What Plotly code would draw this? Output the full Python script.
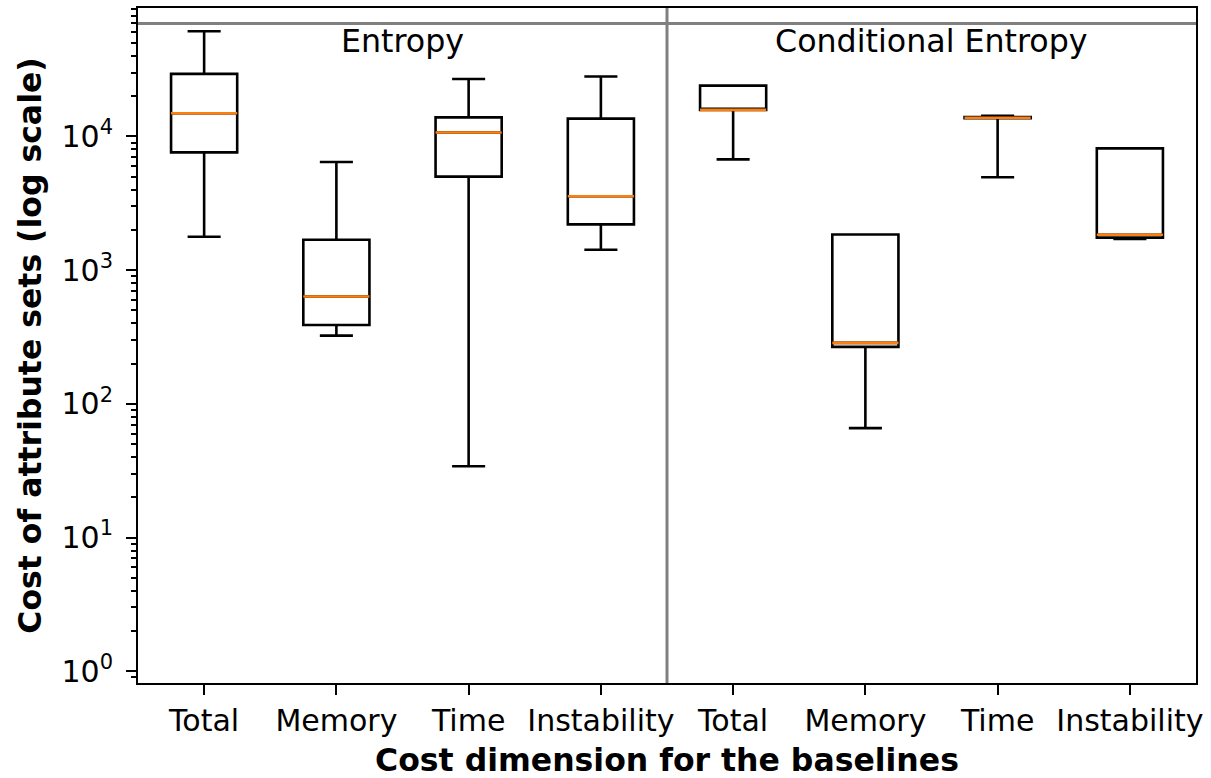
import plotly.graph_objects as go
import numpy as np

# ---- data ----
groups = ["Entropy", "Conditional Entropy"]
dimensions = ["Total", "Memory", "Time", "Instability"]
tick_labels = dimensions * len(groups)

lower_whisker = [1780, 324, 34.1, 1420, 6740, 65.8, 4950, 1710]
q1_values = [7610, 389, 5010, 2200, 15800, 267, 13700, 1750]
median_values = [14900, 635, 10700, 3570, 15800, 286, 13800, 1840]
q3_values = [29400, 1690, 13900, 13600, 24000, 1850, 14000, 8150]
upper_whisker = [61200, 6440, 26900, 28100, 24000, 1850, 14300, 8150]

y_tick_values = [1, 10, 100, 1000, 10000]
y_tick_labels = ["10<sup>0</sup>", "10<sup>1</sup>", "10<sup>2</sup>", "10<sup>3</sup>", "10<sup>4</sup>"]

# ---- styling ----
FONT = "DejaVu Sans"
TICK_SIZE = 30
TITLE_SIZE = 31.5
ANNOT_SIZE = 31.7
BOX_W = 0.5
positions = list(range(1, len(tick_labels) + 1))

fig = go.Figure()

fig.add_trace(go.Box(
    x=positions,
    q1=q1_values,
    median=median_values,
    q3=q3_values,
    lowerfence=lower_whisker,
    upperfence=upper_whisker,
    width=BOX_W,
    whiskerwidth=0.5,
    line=dict(color="black", width=2.6),
    fillcolor="rgba(0,0,0,0)",
    boxpoints=False,
    showlegend=False,
    hoverinfo="skip",
))

# orange median lines
mx, my = [], []
for p, m in zip(positions, median_values):
    mx += [p - BOX_W / 2, p + BOX_W / 2, None]
    my += [m, m, None]
fig.add_trace(go.Scatter(
    x=mx, y=my, mode="lines",
    line=dict(color="#ff7f0e", width=2.6),
    showlegend=False, hoverinfo="skip",
))

# minor ticks on log axis
minor_vals = [m * 10 ** e for e in range(-1, 5) for m in range(2, 10)]

separator_y = 7e4
n_per_group = len(dimensions)

fig.update_layout(
    width=1211, height=778,
    margin=dict(l=138, r=15, t=6, b=94),
    paper_bgcolor="white", plot_bgcolor="white",
    font=dict(family=FONT, size=TICK_SIZE, color="black"),
    shapes=[
        dict(type="line", xref="paper", yref="y", x0=0, x1=1,
             y0=separator_y, y1=separator_y,
             line=dict(color="#808080", width=3), layer="above"),
        dict(type="line", xref="x", yref="paper",
             x0=n_per_group + 0.5, x1=n_per_group + 0.5, y0=0, y1=1,
             line=dict(color="#808080", width=3), layer="above"),
    ],
    annotations=[
        dict(text=g, x=(i * n_per_group) + (n_per_group + 1) / 2, xref="x",
             y=0.951, yref="paper", xanchor="center", yanchor="middle",
             showarrow=False, font=dict(family=FONT, size=ANNOT_SIZE, color="black"))
        for i, g in enumerate(groups)
    ],
)

fig.update_xaxes(
    range=[0.5, len(positions) + 0.5],
    tickmode="array", tickvals=positions, ticktext=tick_labels,
    ticks="outside", ticklen=10, tickwidth=2, tickcolor="black",
    showline=True, linecolor="black", linewidth=2, mirror=True,
    showgrid=False, zeroline=False,
    tickfont=dict(family=FONT, size=TICK_SIZE, color="black"),
    title=dict(text="Cost dimension for the baselines",
               font=dict(family=FONT, size=TITLE_SIZE, color="black", weight="bold"),
               standoff=12),
)

fig.update_yaxes(
    type="log",
    range=[-0.088, 4.961],
    tickmode="array", tickvals=y_tick_values, ticktext=y_tick_labels,
    ticks="outside", ticklen=10, tickwidth=2, tickcolor="black",
    ticklabelstandoff=7,
    minor=dict(tickmode="array", tickvals=minor_vals, ticks="outside",
               ticklen=5, tickwidth=1.5, tickcolor="black", showgrid=False),
    showline=True, linecolor="black", linewidth=2, mirror=True,
    showgrid=False, zeroline=False,
    tickfont=dict(family=FONT, size=TICK_SIZE, color="black"),
    title=dict(text="Cost of attribute sets (log scale)",
               font=dict(family=FONT, size=TITLE_SIZE, color="black", weight="bold"),
               standoff=10),
)

fig.write_html("out.html")
